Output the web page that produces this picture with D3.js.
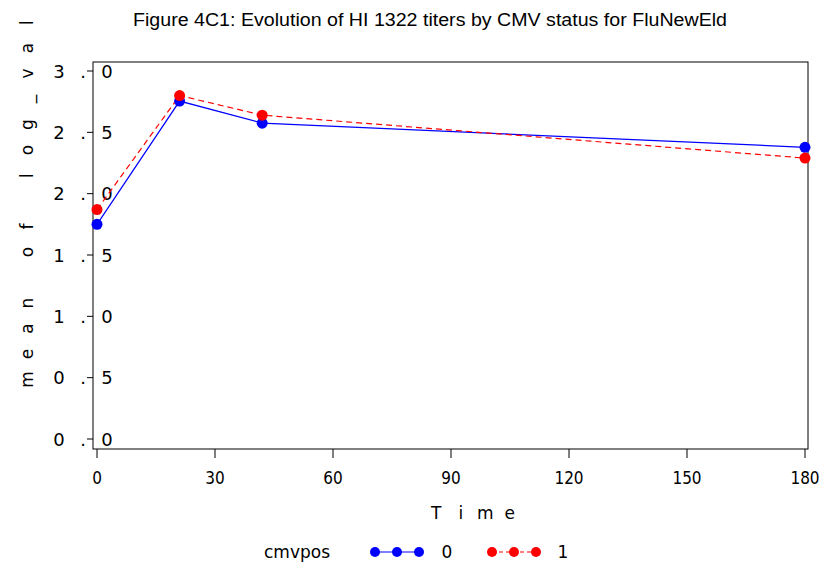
<!DOCTYPE html>
<html>
<head>
<meta charset="utf-8">
<script src="https://cdn.jsdelivr.net/npm/d3@7"></script>
<style>
  body { margin: 0; background: #fff; }
  svg { display: block; }
</style>
</head>
<body>
<div id="main"></div>
<script>
const days = [0, 21, 42, 180];
const cmv0 = [1.75, 2.755, 2.575, 2.378];
const cmv1 = [1.87, 2.80, 2.64, 2.29];
const xTicks = [0, 30, 60, 90, 120, 150, 180];
const yTicks = ["0.0", "0.5", "1.0", "1.5", "2.0", "2.5", "3.0"];
const groups = [
  {name: "0", values: cmv0, color: "#0000ff", dash: null},
  {name: "1", values: cmv1, color: "#ff0000", dash: "6,4"}
];

const width = 821, height = 566;
const svg = d3.select("#main").append("svg")
  .attr("width", width)
  .attr("height", height);

const x = d3.scaleLinear().domain([0, 180]).range([97, 805]);
const y = d3.scaleLinear().domain([0, 3]).range([439, 71]);

const font = "DejaVu Sans, sans-serif";

// title (stretched wide like the original)
svg.append("text")
  .attr("x", 133)
  .attr("y", 26)
  .attr("font-family", "Liberation Sans, Arial, sans-serif")
  .attr("font-size", 17.5)
  .attr("textLength", 594)
  .attr("lengthAdjust", "spacingAndGlyphs")
  .text("Figure 4C1: Evolution of HI 1322 titers by CMV status for FluNewEld");

// frame
svg.append("rect")
  .attr("x", 93)
  .attr("y", 62)
  .attr("width", 715)
  .attr("height", 387)
  .attr("fill", "none")
  .attr("stroke", "#000")
  .attr("stroke-width", 1);

// x axis ticks
const xa = svg.append("g").attr("transform", "translate(0,449)");
xa.selectAll("line")
  .data(xTicks)
  .enter()
  .append("line")
  .attr("x1", d => x(d)).attr("x2", d => x(d))
  .attr("y1", 0).attr("y2", 9)
  .attr("stroke", "#000");
xa.selectAll("text")
  .data(xTicks)
  .enter()
  .append("text")
  .attr("x", d => x(d))
  .attr("y", 35)
  .attr("text-anchor", "middle")
  .attr("font-family", "DejaVu Sans Condensed, DejaVu Sans, sans-serif")
  .attr("font-size", 17)
  .text(d => d);

// spaced out text, one char per cell (like the SAS output)
const spaced = (g, str, cell, size) => {
  g.selectAll("text")
    .data(str.split(""))
    .enter()
    .append("text")
    .attr("x", (c, i) => (i - (str.length - 1) / 2) * cell)
    .attr("y", 0)
    .attr("text-anchor", "middle")
    .attr("font-family", font)
    .attr("font-size", size)
    .text(c => c);
};

// y axis ticks + labels
yTicks.forEach(t => {
  let v = +t;
  svg.append("line")
    .attr("x1", 87).attr("x2", 93)
    .attr("y1", y(v)).attr("y2", y(v))
    .attr("stroke", "#000");
  let g = svg.append("g").attr("transform", `translate(83, ${y(v) + 6.5})`);
  spaced(g, t, 24, 18);
});

// axis titles
spaced(svg.append("g").attr("transform", "translate(473, 519)"), "Time", 24.5, 17);
spaced(svg.append("g").attr("transform", "translate(33, 201) rotate(-90)"), "mean of log_val", 25.5, 17);

// series
const line = d3.line()
  .x((d, i) => x(days[i]))
  .y(d => y(d));

groups.forEach(s => {
  svg.append("path")
    .attr("d", line(s.values))
    .attr("fill", "none")
    .attr("stroke", s.color)
    .attr("stroke-width", 1.2)
    .attr("stroke-dasharray", s.dash);
});

groups.forEach(s => {
  svg.append("g")
    .selectAll("circle")
    .data(s.values)
    .enter()
    .append("circle")
    .attr("cx", (d, i) => x(days[i]))
    .attr("cy", d => y(d))
    .attr("r", 5.5)
    .attr("fill", s.color);
});

// legend
const leg = svg.append("g").attr("transform", "translate(0, 552)");
leg.append("text")
  .attr("x", 264)
  .attr("y", 6)
  .attr("font-family", font)
  .attr("font-size", 17)
  .text("cmvpos");

[[375, 447], [492, 563]].forEach((pos, k) => {
  let s = groups[k];
  let g = leg.append("g").attr("transform", `translate(${pos[0]}, 0)`);
  g.append("line")
    .attr("x1", 0).attr("x2", 44)
    .attr("y1", 0).attr("y2", 0)
    .attr("stroke", s.color)
    .attr("stroke-width", 1.2)
    .attr("stroke-dasharray", s.dash ? "4,3" : null);
  g.selectAll("circle")
    .data([0, 22, 44])
    .enter()
    .append("circle")
    .attr("cx", d => d)
    .attr("cy", 0)
    .attr("r", 5)
    .attr("fill", s.color);
  leg.append("text")
    .attr("x", pos[1])
    .attr("y", 6)
    .attr("text-anchor", "middle")
    .attr("font-family", font)
    .attr("font-size", 17)
    .text(s.name);
});
</script>
</body>
</html>
